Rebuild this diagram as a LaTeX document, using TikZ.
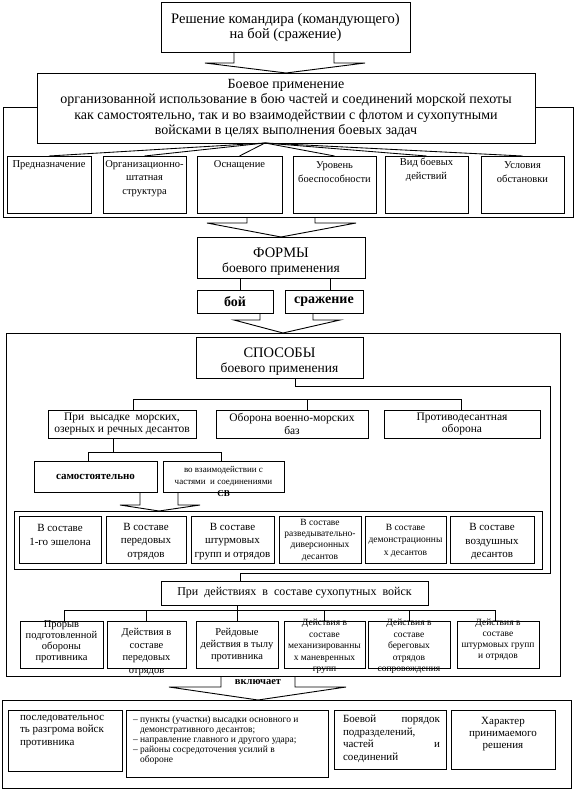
\documentclass[tikz,border=0pt]{standalone}
\usepackage{fontspec}
\setmainfont{Liberation Serif}
\usetikzlibrary{calc}
\newcommand\mkbox[6]{\node[#1,anchor=north west,minimum width={(#5-#3)*1pt},minimum height={(#6-#4)*1pt}] (#2) at (#3,#4) {};}
\newcommand\fs[2]{\fontsize{#1}{#2}\selectfont}
\begin{document}
\begin{tikzpicture}[x=1pt,y=-1pt,
  bx/.style={draw,line width=0.9pt,inner sep=0pt,outer sep=0pt,fill=white},
  fr/.style={draw,line width=1pt,inner sep=0pt,outer sep=0pt},
  ln/.style={line width=0.85pt},
  ar/.style={line width=0.9pt,line join=miter},
  tx/.style={inner sep=0pt,outer sep=0pt,align=center}]
\useasboundingbox (0,0) rectangle (578,791);
% frames
\mkbox{fr}{fr1}{3}{108}{573}{218}
\mkbox{fr}{fr2}{6}{333}{560}{676}
\mkbox{fr}{rowfr}{14}{511}{542}{569}
\mkbox{fr}{bfr}{2}{700}{571}{788}
% boxes
\mkbox{bx}{top}{161}{2}{410}{52}
\mkbox{bx}{boev}{37}{73}{535}{143}
\mkbox{bx}{f1}{7}{156}{91}{213}
\mkbox{bx}{f2}{103}{156}{186}{213}
\mkbox{bx}{f3}{197}{156}{282}{213}
\mkbox{bx}{f4}{293}{156}{376}{213}
\mkbox{bx}{f5}{385}{156}{468}{213}
\mkbox{bx}{f6}{481}{156}{564}{213}
\mkbox{bx}{formy}{197}{237}{365}{278}
\mkbox{bx}{boy}{197}{290}{273}{313}
\mkbox{bx}{srazh}{285}{290}{363}{313}
\mkbox{bx}{sposob}{196}{337}{363}{378}
\mkbox{bx}{s1}{48}{410}{196}{438}
\mkbox{bx}{s2}{216}{410}{368}{438}
\mkbox{bx}{s3}{384}{410}{540}{438}
\mkbox{bx}{ss1}{34}{461}{157}{492}
\mkbox{bx}{ss2}{163}{461}{284}{492}
\mkbox{bx}{r1}{19}{516}{101}{563}
\mkbox{bx}{r2}{106}{516}{186}{563}
\mkbox{bx}{r3}{191}{516}{274}{563}
\mkbox{bx}{r4}{279}{516}{361}{563}
\mkbox{bx}{r5}{365}{516}{446}{563}
\mkbox{bx}{r6}{450}{516}{534}{563}
\mkbox{bx}{pri}{161}{581}{428}{605}
\mkbox{bx}{a1}{20}{621}{103}{668}
\mkbox{bx}{a2}{107}{621}{186}{668}
\mkbox{bx}{a3}{196}{621}{278}{668}
\mkbox{bx}{a4}{284}{621}{365}{668}
\mkbox{bx}{a5}{368}{621}{450}{668}
\mkbox{bx}{a6}{457}{621}{539}{668}
\mkbox{bx}{b1}{8}{710}{122}{771}
\mkbox{bx}{b2}{126}{710}{328}{777}
\mkbox{bx}{b3}{334}{710}{446}{769}
\mkbox{bx}{b4}{451}{710}{555}{769}
% big open arrows
\draw[ar] ($(top.south)+(-51.5,0)$) -- ++(0,11) -- ++(-29,0) -- (boev.north) -- ($(top.south)+(79.5,11)$) -- ++(-31,0) -- ++(0,-11);
\draw[ar] ($(fr1.south)+(-41,0)$) -- ++(0,5) -- ++(-40,0) -- (formy.north) -- ($(fr1.south)+(68,5)$) -- ++(-41,0) -- ++(0,-5);
\draw[ar] ($(boy.south)+(25,0)$) -- ++(0,7) -- ++(-26,0) -- (fr2.north) -- ($(srazh.south)+(16,7)$) -- ++(-27,0) -- ++(0,-7);
\draw[ar] ($(ss1.south)+(44.5,0)$) -- ++(0,13) -- ++(-20,0) -- ($(rowfr.north)+(-119,0)$) -- ($(ss2.south)+(-23.5,13)$) -- ++(-22,0) -- ++(0,-13);
\draw[ar] ($(fr2.south)+(-62,0)$) -- ++(0,11) -- ++(-52,0) -- ($(bfr.north)+(-28.5,0)$) -- ($(fr2.south)+(63,11)$) -- ++(-51,0) -- ++(0,-11);
% fan
\coordinate (apex) at ($(boev.south)+(-21,0)$);
\foreach \b in {f1,f2,f3,f4,f5,f6} \draw[ln] (apex) -- (\b.north);
% forms
\draw[ln] ($(formy.south)+(-41,0)$) -- ($(boy.north)+(5,0)$);
\draw[ln] ($(formy.south)+(49,0)$) -- ($(srazh.north)+(6,0)$);
% sposoby connectors
\draw[ln] ($(sposob.south)+(15.5,0)$) -- ++(0,8) -- ++(255,0) -- ++(0,187) -- ($(pri.north)+(-54.5,-8)$) -- ($(pri.north)+(-54.5,0)$);
\draw[ln] ($(s1.north)+(11,0)$) -- ++(0,-11) -- ($(s3.north)+(-1,-11)$) -- ++(0,11);
\draw[ln] ($(s2.north)+(15,0)$) -- ++(0,-11);
\draw[ln] ($(s1.south)+(-9,0)$) -- ++(0,14);
\draw[ln] ($(ss1.north)+(-7.5,0)$) -- ++(0,-9) -- ($(ss2.north)+(-2.5,-9)$) -- ++(0,9);
\draw[ln] ($(pri.south)+(-57.5,0)$) -- (a3.north);
\draw[ln] ($(a1.north)+(2.5,0)$) -- ++(0,-11) -- ($(a6.north)+(-3,-11)$) -- ++(0,11);
\draw[ln] (a2.north) -- ++(0,-11);
\draw[ln] (a4.north) -- ++(0,-11);
\draw[ln] (a5.north) -- ++(0,-11);
% texts
\node[tx,font=\fs{14.5}{15}] (ttop) at (285.5,27.5) {Решение командира (командующего)\\на бой (сражение)};
\node[tx,font=\fs{14}{15.5}] (tboev) at (286,108.5) {Боевое применение\\организованной использование в бою частей и соединений морской пехоты\\как самостоятельно, так и во взаимодействии с флотом и сухопутными\\войсками в целях выполнения боевых задач};
\node[tx,font=\fs{10.5}{13.5}] (tf1) at (49,165) {Предназначение};
\node[tx,font=\fs{10.5}{13.5}] (tf2) at (144.5,178.5) {Организационно-\\штатная\\структура};
\node[tx,font=\fs{10.5}{13.5}] (tf3) at (239.5,165) {Оснащение};
\node[tx,font=\fs{10.5}{13.5}] (tf4) at (334.5,172) {Уровень\\боеспособности};
\node[tx,font=\fs{10.5}{13.5}] (tf5) at (426.5,170) {Вид боевых\\действий};
\node[tx,font=\fs{10.5}{13.5}] (tf6) at (522.5,172) {Условия\\обстановки};
\node[tx,font=\fs{14.5}{16}] (tformy1) at (281,253) {ФОРМЫ};
\node[tx,font=\fs{13.5}{16}] (tformy2) at (281,269) {боевого применения};
\node[tx,font=\bfseries\fs{14}{16}] (tboy) at (235,301.5) {бой};
\node[tx,font=\bfseries\fs{14}{16}] (tsrazh) at (324,301.5) {сражение};
\node[tx,font=\fs{14.5}{16}] (tsp1) at (279.5,353) {СПОСОБЫ};
\node[tx,font=\fs{13.5}{16}] (tsp2) at (279.5,369) {боевого применения};
\node[tx,font=\fs{11.5}{12.5}] (ts1) at (122,424) {При~~высадке~~морских,\\озерных и речных десантов};
\node[tx,font=\fs{11.5}{12.5}] (ts2) at (292,424) {Оборона военно-морских\\баз};
\node[tx,font=\fs{11.5}{12.5}] (ts3) at (462,424) {Противодесантная\\оборона};
\node[tx,font=\bfseries\fs{11}{12}] (tss1) at (95.5,476.5) {самостоятельно};
\node[tx,font=\fs{9}{12}] (tss2) at (223.5,481) {во взаимодействии с\\частями~~и соединениями\\{\bfseries СВ}};
\node[tx,font=\fs{11}{13.5}] (tr1) at (60,535) {В составе\\1-го эшелона};
\node[tx,font=\fs{11}{13.5}] (tr2) at (146,541.5) {В составе\\передовых\\отрядов};
\node[tx,font=\fs{11}{13.5}] (tr3) at (232.5,541.5) {В составе\\штурмовых\\групп и отрядов};
\node[tx,font=\fs{9.5}{11.3}] (tr4) at (320,540) {В составе\\разведывательно-\\диверсионных\\десантов};
\node[tx,font=\fs{9.5}{12.5}] (tr5) at (405.5,540.5) {В составе\\демонстрационны\\х десантов};
\node[tx,font=\fs{11}{13.5}] (tr6) at (492,541.5) {В составе\\воздушных\\десантов};
\node[tx,font=\fs{12}{14}] (tpri) at (294.5,593) {При~~действиях~~в~~составе сухопутных~~войск};
\node[tx,font=\fs{10.5}{11}] (ta1) at (61.5,642) {Прорыв\\подготовленной\\обороны\\противника};
\node[tx,font=\fs{10.5}{12.5}] (ta2) at (146.5,652) {Действия в\\составе\\передовых\\отрядов};
\node[tx,font=\fs{10.5}{12}] (ta3) at (237,645) {Рейдовые\\действия в тылу\\противника};
\node[tx,font=\fs{9.5}{11.5}] (ta4) at (324.5,646.5) {Действия в\\составе\\механизированны\\х маневренных\\групп};
\node[tx,font=\fs{9.5}{11.5}] (ta5) at (409,646.5) {Действия в\\составе\\береговых\\отрядов\\сопровождения};
\node[tx,font=\fs{9.5}{11}] (ta6) at (498,640) {Действия в\\составе\\штурмовых групп\\и отрядов};
\node[tx,font=\bfseries\fs{10.5}{12}] (tvkl) at (258,682) {включает};
\node[tx,anchor=north west,align=left,font=\fs{11}{12.5}] (tb1) at (20,715) {последовательнос\\ть разгрома войск\\противника};
\node[tx,anchor=north west,align=left,font=\fs{9.5}{10}] (tb2) at (133,716) {– пункты (участки) высадки основного и\\\hspace*{7pt}демонстративного десантов;\\– направление главного и другого удара;\\– районы сосредоточения усилий в\\\hspace*{7pt}обороне};
\node[tx,anchor=north west,align=left,text width=97pt,font=\fs{11}{12.5}] (tb3) at (343,715) {Боевой\hfill порядок\\подразделений,\\частей\hfill и\\соединений};
\node[tx,font=\fs{11}{12}] (tb4) at (503,734) {Характер\\принимаемого\\решения};
\end{tikzpicture}
\end{document}
